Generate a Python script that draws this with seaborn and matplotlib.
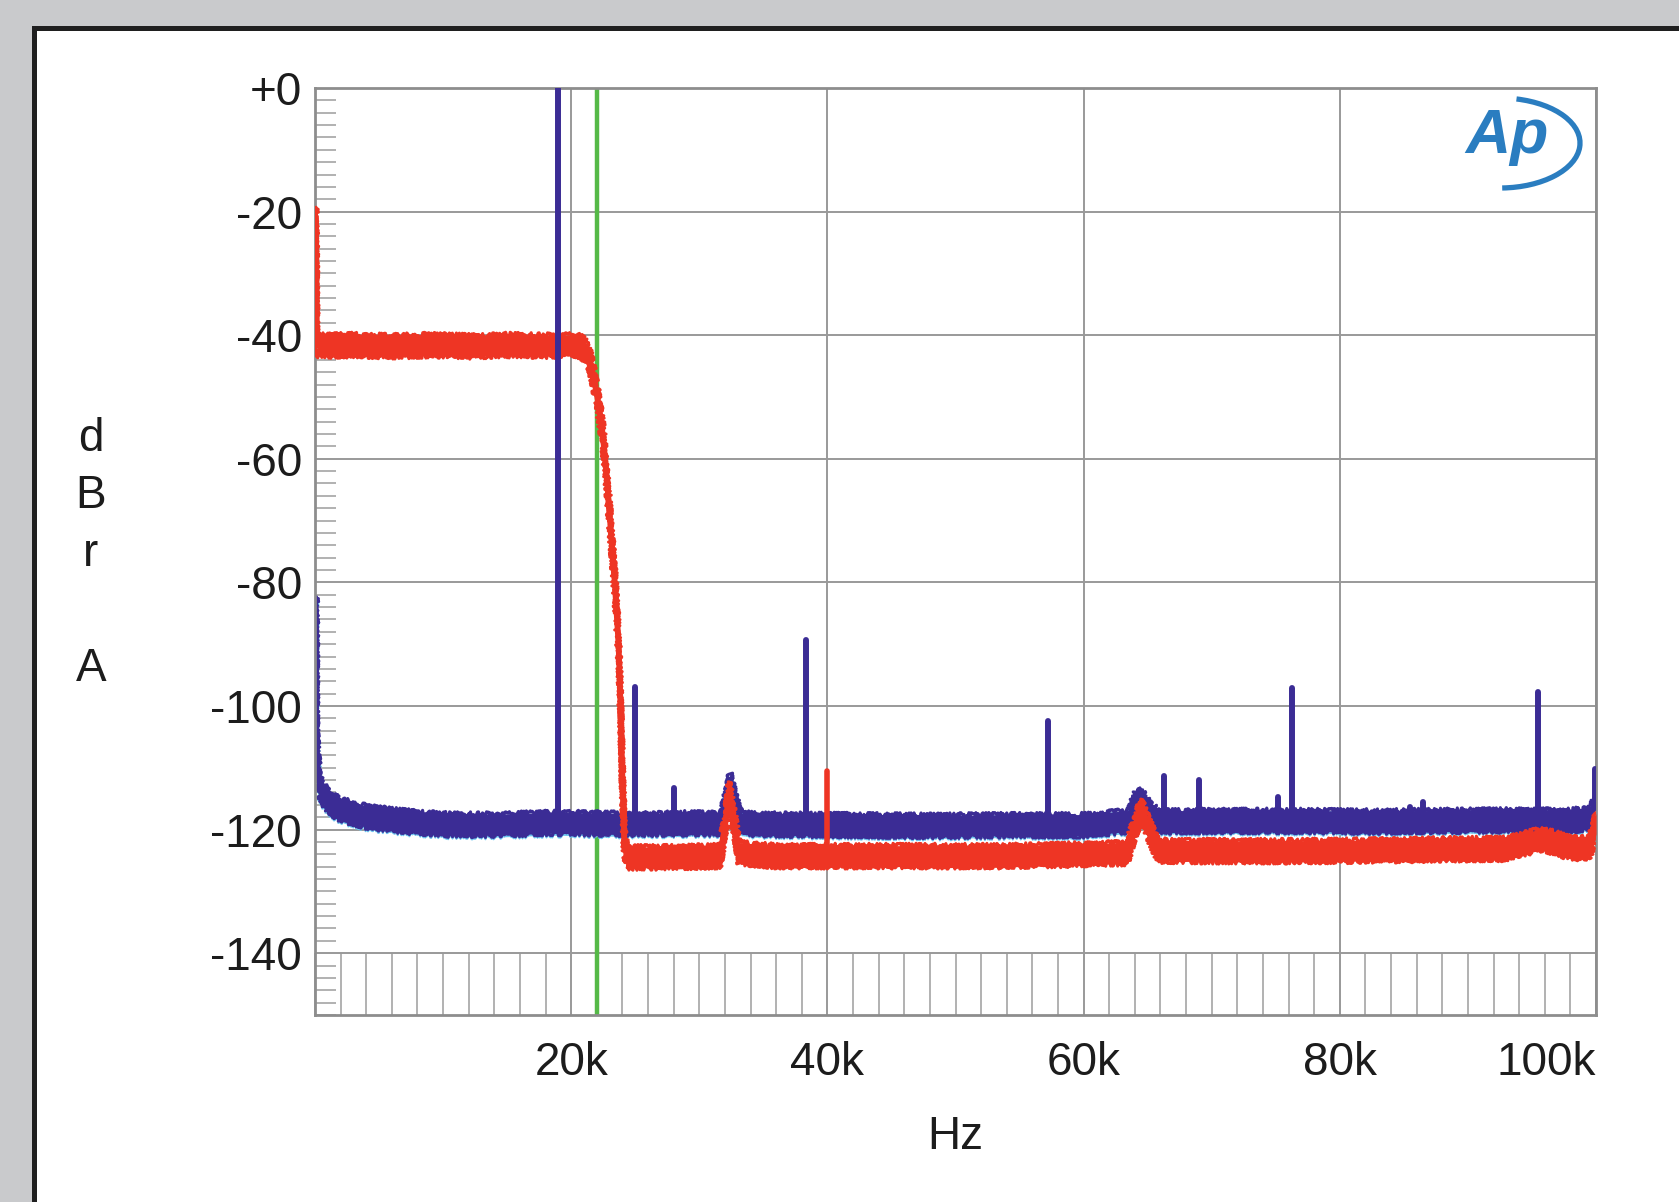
import numpy as np
import pandas as pd
import matplotlib
matplotlib.use("Agg")
import matplotlib.pyplot as plt
from matplotlib.patches import Rectangle, Arc
from matplotlib.ticker import MultipleLocator
import seaborn as sns

# ---------------------------------------------------------------------------
# Spectrum data: frequency in kHz, level in dBr A
# ---------------------------------------------------------------------------
# Blue channel: noise floor (band centre) with the 32 kHz and 64 kHz humps
blue_floor_khz = [0.1, 0.13, 0.2, 0.4, 0.9, 1.9, 4.0, 6.6, 10.5, 14.4, 18.3,
                  21.8, 24.0, 28.0, 31.7, 32.1, 32.4, 32.8, 33.3, 36.0, 42.0,
                  48.0, 54.0, 60.0, 63.5, 64.1, 64.5, 65.2, 66.0, 70.0, 76.0,
                  82.0, 88.0, 94.0, 98.0, 99.6, 100.0]
blue_floor_db = [-84.0, -104.0, -109.0, -113.0, -115.2, -116.7, -117.9, -118.6,
                 -119.2, -119.2, -118.9, -119.0, -119.1, -119.0, -119.0, -115.5,
                 -112.5, -116.0, -119.0, -119.2, -119.3, -119.4, -119.3, -119.3,
                 -118.6, -115.3, -115.2, -117.5, -118.7, -118.6, -118.6, -118.7,
                 -118.6, -118.5, -118.6, -118.0, -116.0]

# Blue channel: discrete tones and spurs
blue_spike_khz = [19.0, 24.95, 28.0, 38.3, 57.2, 66.3, 69.0, 75.2, 76.3,
                  85.5, 86.5, 95.5, 99.9]
blue_spike_db = [0.0, -97.0, -113.3, -89.3, -102.5, -111.4, -112.0, -114.7,
                 -97.1, -116.3, -115.5, -97.7, -110.2]

# Red channel: pass-band noise, anti-alias roll-off and stop-band floor
red_floor_khz = [0.08, 0.15, 1.0, 3.0, 6.0, 9.0, 12.0, 15.0, 18.0, 20.5, 21.0,
                 21.5, 22.0, 22.4, 22.7, 23.0, 23.4, 23.7, 23.85, 24.0, 24.15,
                 24.35, 27.0, 31.6, 32.0, 32.35, 32.7, 33.1, 36.0, 42.0, 48.0,
                 54.0, 60.0, 63.4, 64.0, 64.5, 65.0, 65.8, 70.0, 76.0, 82.0,
                 88.0, 93.0, 95.8, 98.0, 99.5, 100.0]
red_floor_db = [-21.0, -41.6, -41.7, -41.6, -41.8, -41.6, -41.8, -41.6, -41.7,
                -41.6, -42.2, -44.3, -49.5, -55.0, -61.0, -69.0, -80.0, -90.0,
                -100.0, -112.0, -122.0, -124.5, -124.5, -124.3, -119.5, -114.0,
                -118.5, -123.8, -124.3, -124.3, -124.3, -124.3, -124.0, -123.8,
                -119.5, -116.8, -119.5, -123.4, -123.5, -123.5, -123.4, -123.2,
                -123.1, -121.5, -123.0, -123.0, -119.0]

# Red channel: spur
red_spike_khz = [40.0]
red_spike_db = [-110.5]

# Filter marker
marker_khz = 22.0

# Axis ticks
x_tick_khz = [20, 40, 60, 80, 100]
x_tick_labels = ["20k", "40k", "60k", "80k", "100k"]
y_ticks = [0, -20, -40, -60, -80, -100, -120, -140]
y_tick_labels = ["+0", "-20", "-40", "-60", "-80", "-100", "-120", "-140"]

# ---------------------------------------------------------------------------
# Style
# ---------------------------------------------------------------------------
BLUE = "#3b2c95"
CYAN = "#6cc5ee"
RED = "#ee3524"
GREEN = "#55b947"
GRID = "#999999"
TEXT = "#1c1c1c"
LOGO = "#2a7dc0"
BAND = 1.7  # half-width of the noise band, dB
FS = 33
JAGGED = (2.4, 1.6, 2.0)  # sketch (scale, length, randomness) for noisy edges

sns.set_theme(style="white")
plt.rcParams["font.family"] = ["Liberation Sans", "DejaVu Sans"]

fig = plt.figure(figsize=(16.79, 12.02), dpi=100, facecolor="#c9cacc")
fig.add_artist(Rectangle((0.0204, -0.1), 1.2, 0.9771 + 0.1,
                         transform=fig.transFigure, facecolor="white",
                         edgecolor="#1f1f1f", linewidth=3.6, zorder=0))
ax = fig.add_axes([0.1876, 0.1556, 0.7630, 0.7712])
ax.set_facecolor("white")


def frame(khz, db):
    return pd.DataFrame({"hz": np.asarray(khz) * 1000.0, "db": np.asarray(db)})


def spikes(khz, db, floor):
    rows = []
    for i, (f, lvl) in enumerate(zip(khz, db)):
        base = np.interp(f, floor["hz"] / 1000.0, floor["db"])
        rows.append((i, f * 1000.0, base))
        rows.append((i, f * 1000.0, lvl))
    return pd.DataFrame(rows, columns=["spike", "hz", "db"])


def band(df, color, z, lo=0.0, hi=0.0, edge_lw=2.2):
    """Noise band: a filled strip whose two edges are drawn with a ragged stroke."""
    low = df["db"] - BAND - lo
    high = df["db"] + BAND + hi
    ax.fill_between(df["hz"], low, high, facecolor=color, lw=0, zorder=z)
    for edge in (low, high):
        n = len(ax.lines)
        sns.lineplot(x=df["hz"], y=edge, estimator=None, color=color,
                     lw=edge_lw, ax=ax, zorder=z)
        for ln in ax.lines[n:]:
            ln.set_sketch_params(*JAGGED)


blue = frame(blue_floor_khz, blue_floor_db)
red = frame(red_floor_khz, red_floor_db)
blue_sp = spikes(blue_spike_khz, blue_spike_db, blue)
red_sp = spikes(red_spike_khz, red_spike_db, red)

# filter marker
ax.axvline(marker_khz * 1000.0, color=GREEN, lw=3.2, zorder=1.5)

# blue channel (with the faint cyan trace just underneath)
band(blue, CYAN, 2.0, lo=0.3, hi=-0.6, edge_lw=1.4)
band(blue, BLUE, 2.2)
sns.lineplot(data=blue, x="hz", y="db", estimator=None, color=BLUE, lw=3.5,
             ax=ax, zorder=2.3)

# red channel
band(red, RED, 3.0)
sns.lineplot(data=red, x="hz", y="db", estimator=None, color=RED, lw=4.2,
             ax=ax, zorder=3.1)

# tones and spurs
sns.lineplot(data=red_sp, x="hz", y="db", units="spike", estimator=None,
             sort=False, color=RED, lw=4.0, ax=ax, zorder=3.5)
sns.lineplot(data=blue_sp, x="hz", y="db", units="spike", estimator=None,
             sort=False, color=BLUE, lw=4.3, ax=ax, zorder=4)

# axes, grid and ticks
ax.set_xlim(0, 100000)
ax.set_ylim(-150, 0)
ax.set_xticks([k * 1000 for k in x_tick_khz], x_tick_labels)
ax.set_yticks(y_ticks, y_tick_labels)
ax.xaxis.set_minor_locator(MultipleLocator(2000))
ax.yaxis.set_minor_locator(MultipleLocator(2))
ax.grid(True, which="major", color=GRID, lw=1.4)
ax.set_axisbelow(True)
ax.tick_params(which="major", length=0, labelsize=FS, labelcolor=TEXT)
ax.tick_params(axis="x", which="major", pad=19)
ax.tick_params(axis="y", which="major", pad=9.5)
ax.tick_params(axis="x", which="minor", direction="in", length=44.5,
               width=1.1, color="#9d9d9d", bottom=True, top=False)
ax.tick_params(axis="y", which="minor", direction="in", length=15,
               width=1.1, color="#9d9d9d", left=True, right=False)
ax.get_xticklabels()[-1].set_horizontalalignment("right")
for s in ax.spines.values():
    s.set_color("#8d8d8d")
    s.set_linewidth(2.0)

ax.set_xlabel("Hz", fontsize=FS, color=TEXT, labelpad=21)
ax.set_ylabel("")
fig.text(91 / 1679, 1 - 554 / 1202, "d\nB\nr\n\nA", fontsize=FS, color=TEXT,
         ha="center", va="center", multialignment="center", linespacing=1.40)

# analyzer logo
fig.text(1507 / 1679, 1 - 137 / 1202, "Ap", fontsize=45, fontstyle="italic",
         fontweight="bold", color=LOGO, ha="center", va="center")
fig.add_artist(Arc((1500 / 1679, 1 - 143 / 1202), 160 / 1679, 90 / 1202,
                   theta1=-88, theta2=75, transform=fig.transFigure,
                   color=LOGO, lw=3.8))

fig.savefig("out.png", dpi=100, facecolor=fig.get_facecolor())
